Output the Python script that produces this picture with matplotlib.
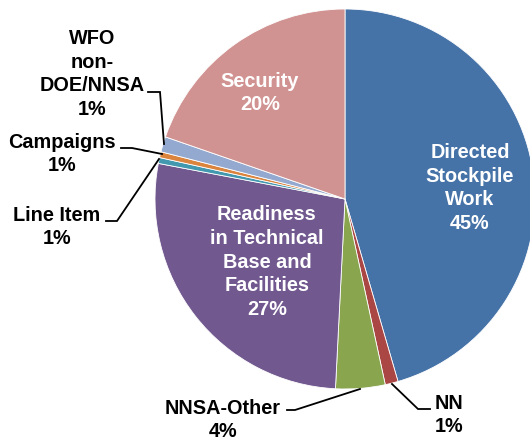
import matplotlib
matplotlib.use("Agg")
import matplotlib.pyplot as plt

labels = ["Directed Stockpile Work", "NN", "NNSA-Other",
          "Readiness in Technical Base and Facilities", "Line Item",
          "Campaigns", "WFO non-DOE/NNSA", "Security"]
values = [45.5, 1.1, 4.2, 27.2, 0.5, 0.5, 1.3, 19.7]
pct_labels = ["45%", "1%", "4%", "27%", "1%", "1%", "1%", "20%"]
colors = ["#4572A7", "#AA4643", "#89A54E", "#71588F", "#4198AF",
          "#DB843D", "#93A9CF", "#D19392"]

plt.rcParams['font.family'] = ['Liberation Sans', 'DejaVu Sans']

W, H = 530, 437
fig = plt.figure(figsize=(W / 100, H / 100), dpi=100)
ax = fig.add_axes([0, 0, 1, 1])

def Y(y):
    return H - y

cx, cy, r = 345, 199, 190
ax.pie(values, colors=colors, startangle=90, counterclock=False,
       center=(cx, Y(cy)), radius=r,
       wedgeprops=dict(edgecolor="white", linewidth=0.6))
ax.set_xlim(0, W)
ax.set_ylim(0, H)
ax.set_aspect('auto')
ax.axis('off')

fs = 14.3
ls = 1.32
inside = [
    ("Directed\nStockpile\nWork\n" + pct_labels[0], 470, 188),
    ("Security\n" + pct_labels[7], 260, 93),
    ("Readiness\nin Technical\nBase and\nFacilities\n" + pct_labels[3], 267, 262),
]
for t, x, y in inside:
    ax.text(x, Y(y), t, color="white", fontsize=fs, fontweight="bold",
            ha="center", va="center", linespacing=ls)

outside = [
    ("WFO\nnon-\nDOE/NNSA\n" + pct_labels[6], 92, 74),
    ("Campaigns\n" + pct_labels[5], 62, 154),
    ("Line Item\n" + pct_labels[4], 57, 227),
    ("NNSA-Other\n" + pct_labels[2], 223, 420),
    ("NN\n" + pct_labels[1], 449, 415),
]
for t, x, y in outside:
    ax.text(x, Y(y), t, color="black", fontsize=fs, fontweight="bold",
            ha="center", va="center", linespacing=ls)

leaders = [
    [(148, 92), (160, 92), (164, 144)],
    [(121, 148), (132, 148), (162, 154)],
    [(106, 221), (117, 221), (159, 159)],
    [(287, 410), (295, 410), (360, 389)],
    [(430, 409), (418, 409), (392, 384)],
]
for pts in leaders:
    ax.plot([p[0] for p in pts], [Y(p[1]) for p in pts], color="black",
            lw=1.3, solid_joinstyle="miter")

fig.savefig("out.png", dpi=100)
